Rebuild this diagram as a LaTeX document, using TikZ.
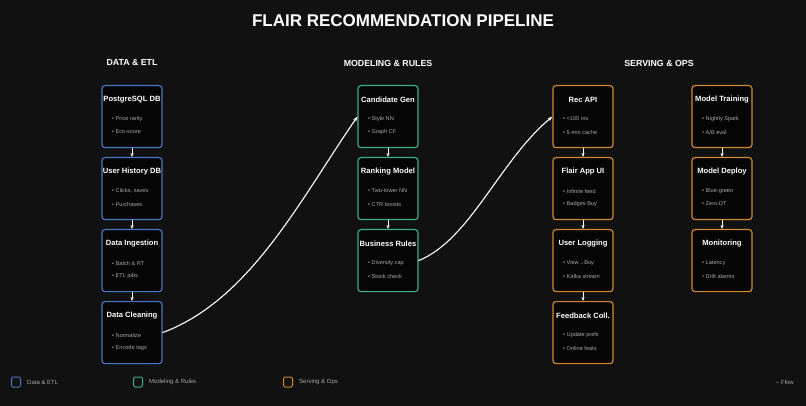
\documentclass[tikz,border=0pt]{standalone}
\usepackage{fontspec}
\setmainfont{Liberation Sans}
\usetikzlibrary{arrows.meta, positioning}
\definecolor{bg}{HTML}{111111}
\definecolor{etl}{HTML}{4A78C0}
\definecolor{model}{HTML}{3FAE8A}
\definecolor{serve}{HTML}{D08A30}
\definecolor{bullet}{HTML}{A8A8A8}

% card: name, x, y (top), colour, title, bullet 1, bullet 2
\newcommand{\card}[7]{%
  \node[box, draw=#4] (#1) at (#2,#3) {};
  \node[ctitle] (#1t) at ([yshift=-15pt]#1.north) {#5};
  \node[item] (#1a) at ([xshift=-20pt,yshift=-34pt]#1.north) {• #6};
  \node[item] (#1b) at ([xshift=-20pt,yshift=-47pt]#1.north) {• #7};
}

\begin{document}
\begin{tikzpicture}[
    x=1pt, y=-1pt,
    box/.style = {draw, line width=1.2pt, rounded corners=3pt, fill=black!70!bg, minimum width=60pt, minimum height=62pt, anchor=north, inner sep=0pt},
    ctitle/.style = {text=white, font=\bfseries\fontsize{7.6}{9}\selectfont, inner sep=0pt},
    item/.style = {text=bullet, font=\fontsize{5.6}{7}\selectfont, inner sep=0pt, anchor=west},
    head/.style = {text=white, font=\bfseries\fontsize{8.8}{10}\selectfont},
    link/.style = {-{Stealth[length=4pt]}, white, line width=0.9pt},
    flow/.style = {-{Stealth[length=5pt]}, white, line width=1.1pt},
    key/.style = {draw, line width=1pt, rounded corners=1.5pt, minimum width=9pt, minimum height=10pt, inner sep=0pt},
    keytext/.style = {text=bullet, font=\fontsize{6}{7}\selectfont, anchor=west, inner sep=0pt}
  ]
  \fill[bg] (0,0) rectangle (806,406);

  % Title and section heads
  \node[text=white, font=\bfseries\fontsize{17}{20}\selectfont] (title) at (403,21) {FLAIR RECOMMENDATION PIPELINE};
  \node[head] (h1) at (132,63) {DATA \& ETL};
  \node[head] (h2) at (388,63) {MODELING \& RULES};
  \node[head] (h3) at (659,63) {SERVING \& OPS};

  % Data & ETL
  \card{pg}{132}{85}{etl}{PostgreSQL DB}{Price rarity}{Eco-score}
  \card{uh}{132}{157}{etl}{User History DB}{Clicks, saves}{Purchases}
  \card{di}{132}{229}{etl}{Data Ingestion}{Batch \& RT}{ETL jobs}
  \card{dc}{132}{301}{etl}{Data Cleaning}{Normalize}{Encode tags}

  % Modeling & Rules
  \card{cg}{388}{85}{model}{Candidate Gen}{Style NN}{Graph CF}
  \card{rm}{388}{157}{model}{Ranking Model}{Two-tower NN}{CTR boosts}
  \card{br}{388}{229}{model}{Business Rules}{Diversity cap}{Stock check}

  % Serving & Ops
  \card{api}{583}{85}{serve}{Rec API}{<100 ms}{5-min cache}
  \card{ui}{583}{157}{serve}{Flair App UI}{Infinite feed}{Badges Buy}
  \card{ul}{583}{229}{serve}{User Logging}{View→Buy}{Kafka stream}
  \card{fb}{583}{301}{serve}{Feedback Coll.}{Update prefs}{Online feats}
  \card{mt}{722}{85}{serve}{Model Training}{Nightly Spark}{A/B eval}
  \card{md}{722}{157}{serve}{Model Deploy}{Blue-green}{Zero-DT}
  \card{mo}{722}{229}{serve}{Monitoring}{Latency}{Drift alarms}

  % Arrows inside columns
  \draw[link] (pg) -- (uh);
  \draw[link] (uh) -- (di);
  \draw[link] (di) -- (dc);
  \draw[link] (cg) -- (rm);
  \draw[link] (rm) -- (br);
  \draw[link] (api) -- (ui);
  \draw[link] (ui) -- (ul);
  \draw[link] (ul) -- (fb);
  \draw[link] (mt) -- (md);
  \draw[link] (md) -- (mo);

  % Between columns
  \draw[flow] (dc.east) .. controls (250,300) and (300,200) .. (cg.west);
  \draw[flow] (br.east) .. controls (470,240) and (500,160) .. (api.west);

  % Legend
  \node[key, draw=etl] (k1) at (16,382) {};
  \node[keytext, right=6pt of k1] (k1t) {Data \& ETL};
  \node[key, draw=model] (k2) at (138,382) {};
  \node[keytext, right=6pt of k2] (k2t) {Modeling \& Rules};
  \node[key, draw=serve] (k3) at (288,382) {};
  \node[keytext, right=6pt of k3] (k3t) {Serving \& Ops};
  \node[keytext, anchor=east] (k4) at (794,382) {– Flow};
\end{tikzpicture}
\end{document}
